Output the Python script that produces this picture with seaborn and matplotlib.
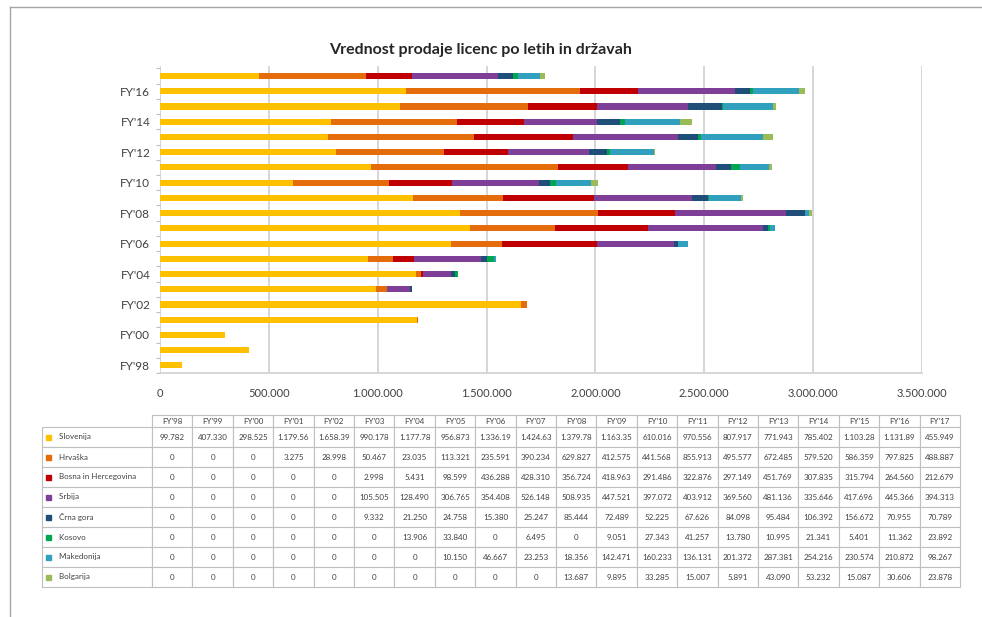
import matplotlib
matplotlib.use('Agg')
import matplotlib.pyplot as plt
from matplotlib.lines import Line2D
from matplotlib.patches import Rectangle
from matplotlib.ticker import FuncFormatter
import seaborn as sns
import pandas as pd

# data
years = ["FY'98", "FY'99", "FY'00", "FY'01", "FY'02", "FY'03", "FY'04", "FY'05", "FY'06", "FY'07",
         "FY'08", "FY'09", "FY'10", "FY'11", "FY'12", "FY'13", "FY'14", "FY'15", "FY'16", "FY'17"]
countries = ['Slovenija', 'Hrvaška', 'Bosna in Hercegovina', 'Srbija', 'Črna gora',
             'Kosovo', 'Makedonija', 'Bolgarija']
slovenija = [99782, 407330, 298525, 1179560, 1658390, 990178, 1177780, 956873, 1336190, 1424630,
             1379780, 1163350, 610016, 970556, 807917, 771943, 785402, 1103280, 1131890, 455949]
hrvaska = [0, 0, 0, 3275, 28998, 50467, 23035, 113321, 235591, 390234,
           629827, 412575, 441568, 855913, 495577, 672485, 579520, 586359, 797825, 488887]
bih = [0, 0, 0, 0, 0, 2998, 5431, 98599, 436288, 428310,
       356724, 418963, 291486, 322876, 297149, 451769, 307835, 315794, 264560, 212679]
srbija = [0, 0, 0, 0, 0, 105505, 128490, 306765, 354408, 526148,
          508935, 447521, 397072, 403912, 369560, 481136, 335646, 417696, 445366, 394313]
crna_gora = [0, 0, 0, 0, 0, 9332, 21250, 24758, 15380, 25247,
             85444, 72489, 52225, 67626, 84098, 95484, 106392, 156672, 70955, 70789]
kosovo = [0, 0, 0, 0, 0, 0, 13906, 33840, 0, 6495,
          0, 9051, 27343, 41257, 13780, 10995, 21341, 5401, 11362, 23892]
makedonija = [0, 0, 0, 0, 0, 0, 0, 10150, 46667, 23253,
              18356, 142471, 160233, 136131, 201372, 287381, 254216, 230574, 210872, 98267]
bolgarija = [0, 0, 0, 0, 0, 0, 0, 0, 0, 0,
             13687, 9895, 33285, 15007, 5891, 43090, 53232, 15087, 30606, 23878]

colors = ['#FFC000', '#E46C0A', '#C00000', '#7F3F98', '#1F4E79', '#00A650', '#31A0BE', '#9BBB59']

df = pd.DataFrame(dict(zip(countries, [slovenija, hrvaska, bih, srbija, crna_gora,
                                       kosovo, makedonija, bolgarija])), index=years)
cum = df.cumsum(axis=1)


def dots(v):
    return f'{int(v):,}'.replace(',', '.')


plt.rcParams['font.family'] = ['Lato', 'DejaVu Sans']
fig = plt.figure(figsize=(9.82, 6.17), dpi=100)
W, H = 982, 617

# page frame (top + left only)
fig.add_artist(Line2D([10 / W, 1], [1 - 7 / H, 1 - 7 / H], color='#a6a6a6', lw=1))
fig.add_artist(Line2D([10 / W, 10 / W], [0, 1 - 7 / H], color='#a6a6a6', lw=1))

ax = fig.add_axes([160 / W, 1 - 373 / H, 762 / W, 307 / H])
order = years[::-1]
# stacked bars: draw cumulative totals from the last series back to the first
for c, col in reversed(list(zip(countries, colors))):
    d = pd.DataFrame({'year': years, 'v': cum[c].values})
    sns.barplot(data=d, x='v', y='year', order=order, orient='h', color=col,
                saturation=1, width=0.4, errorbar=None, ax=ax, zorder=3)

ax.set_xlim(0, 3500000)
ax.set_ylim(19.46, -0.66)
ax.set_xticks(range(0, 3500001, 500000))
ax.xaxis.set_major_formatter(FuncFormatter(lambda v, p: dots(v)))
ax.set_yticks(range(1, 20, 2))
ax.set_yticklabels(order[1::2])
ax.set_yticks([k + 0.5 for k in range(-1, 20)], minor=True)
ax.tick_params(axis='y', which='minor', length=3, color='#bfbfbf', width=0.8)
ax.tick_params(axis='y', which='major', length=0, pad=7, labelsize=8.5, labelcolor='#404040')
ax.tick_params(axis='x', length=0, pad=11, labelsize=8, labelcolor='#404040')
ax.set_xlabel('')
ax.set_ylabel('')
ax.grid(axis='x', color='#d0d0d0', lw=1.2, zorder=0)
for s in ['top', 'right', 'left']:
    ax.spines[s].set_visible(False)
ax.spines['bottom'].set_color('#d0d0d0')
ax.spines['bottom'].set_linewidth(1.2)

fig.text(481 / W, 1 - 50 / H, 'Vrednost prodaje licenc po letih in državah',
         ha='center', va='center', fontsize=11.5, fontweight='bold', color='#262626')

# data table
tx0, tx1, ty0, ty1 = 42, 960, 415, 587
axt = fig.add_axes([tx0 / W, 1 - ty1 / H, (tx1 - tx0) / W, (ty1 - ty0) / H])
axt.axis('off')
cell_text = [['   ' + c] + [dots(v)[:8] for v in df[c]] for c in countries]
label_w = 110
col_w = (tx1 - tx0 - label_w) / len(years)
tbl = axt.table(cellText=cell_text, colLabels=[''] + years, cellLoc='center',
                colWidths=[label_w] + [col_w] * len(years), bbox=[0, 0, 1, 1])
tbl.auto_set_font_size(False)
for (r, c), cell in tbl.get_celld().items():
    cell.set_edgecolor('#bfbfbf')
    cell.set_linewidth(0.8)
    cell.set_height(12 if r == 0 else 20)
    cell.get_text().set_fontsize(5.8)
    cell.get_text().set_color('#404040')
    if c == 0:
        cell.get_text().set_ha('left')
        cell._loc = 'left'
        if r == 0:
            cell.visible_edges = ''

# colour keys in the row labels
tw, th = tx1 - tx0, ty1 - ty0
for i, col in enumerate(colors):
    yc = 427 + 20 * (i + 0.5)
    axt.add_patch(Rectangle((4 / tw, 1 - (yc - ty0 + 2.5) / th), 5 / tw, 5 / th,
                            transform=axt.transAxes, color=col, clip_on=False))

fig.savefig('out.png', dpi=100, facecolor='white')
